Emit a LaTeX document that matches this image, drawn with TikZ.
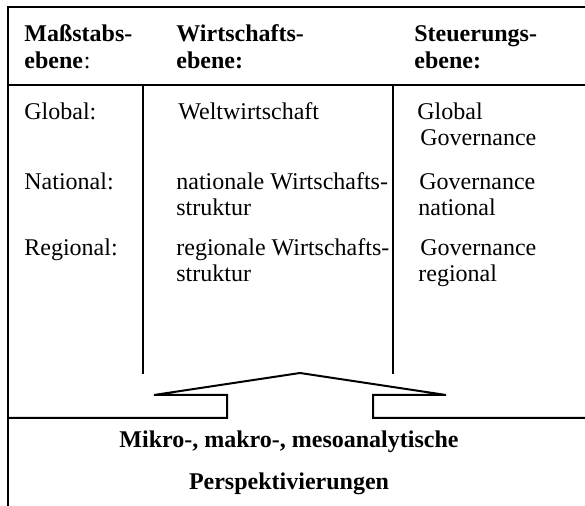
\documentclass[tikz,border=0pt]{standalone}
\usepackage{fontspec}
\setmainfont{Liberation Serif}
\tikzset{
  txt/.style={anchor=base west, inner sep=0pt, font=\fontsize{12}{14}\selectfont},
  hdr/.style={txt, font=\fontsize{12}{14}\selectfont\bfseries},
  ctr/.style={anchor=base, inner sep=0pt, font=\fontsize{12}{14}\selectfont\bfseries},
  rule/.style={line width=1pt, line cap=rect}
}
\begin{document}
\begin{tikzpicture}[x=0.5pt, y=-0.5pt]
\useasboundingbox (0,0) rectangle (585,506);
% frame and rules
\draw[rule] (585,7) -- (8,7) -- (8,506);
\draw[rule] (8,85) -- (585,85);
\draw[rule] (143,85) -- (143,373);
\draw[rule] (393,85) -- (393,373);
% arrow
\draw[rule, line join=miter] (8,418) -- (227,418) -- (227,395) -- (154,395) -- (300,373) -- (446,395) -- (373,395) -- (373,418) -- (585,418);
% header
\node[hdr] (h1a) at (24,42) {Maßstabs-};
\node[hdr] (h1b) at (24,69) {ebene};
\node[txt] (h1c) at (h1b.base east) {:};
\node[hdr] (h2a) at (176,42) {Wirtschafts-};
\node[hdr] (h2b) at (176,69) {ebene:};
\node[hdr] (h3a) at (414,42) {Steuerungs-};
\node[hdr] (h3b) at (414,69) {ebene:};
% rows
\node[txt] (l1) at (24,120) {Global:};
\node[txt] (l2) at (24,190) {National:};
\node[txt] (l3) at (24,256) {Regional:};
\node[txt] (m1) at (178,120) {Weltwirtschaft};
\node[txt] (m2a) at (176,190) {nationale Wirtschafts-};
\node[txt] (m2b) at (176,216) {struktur};
\node[txt] (m3a) at (176,256) {regionale Wirtschafts-};
\node[txt] (m3b) at (176,282) {struktur};
\node[txt] (r1a) at (417,120) {Global};
\node[txt] (r1b) at (420,146) {Governance};
\node[txt] (r2a) at (419,190) {Governance};
\node[txt] (r2b) at (418,216) {national};
\node[txt] (r3a) at (420,256) {Governance};
\node[txt] (r3b) at (418,282) {regional};
% bottom
\node[ctr] (b1) at (289,448) {Mikro-, makro-, mesoanalytische};
\node[ctr] (b2) at (289,490) {Perspektivierungen};
\end{tikzpicture}
\end{document}
